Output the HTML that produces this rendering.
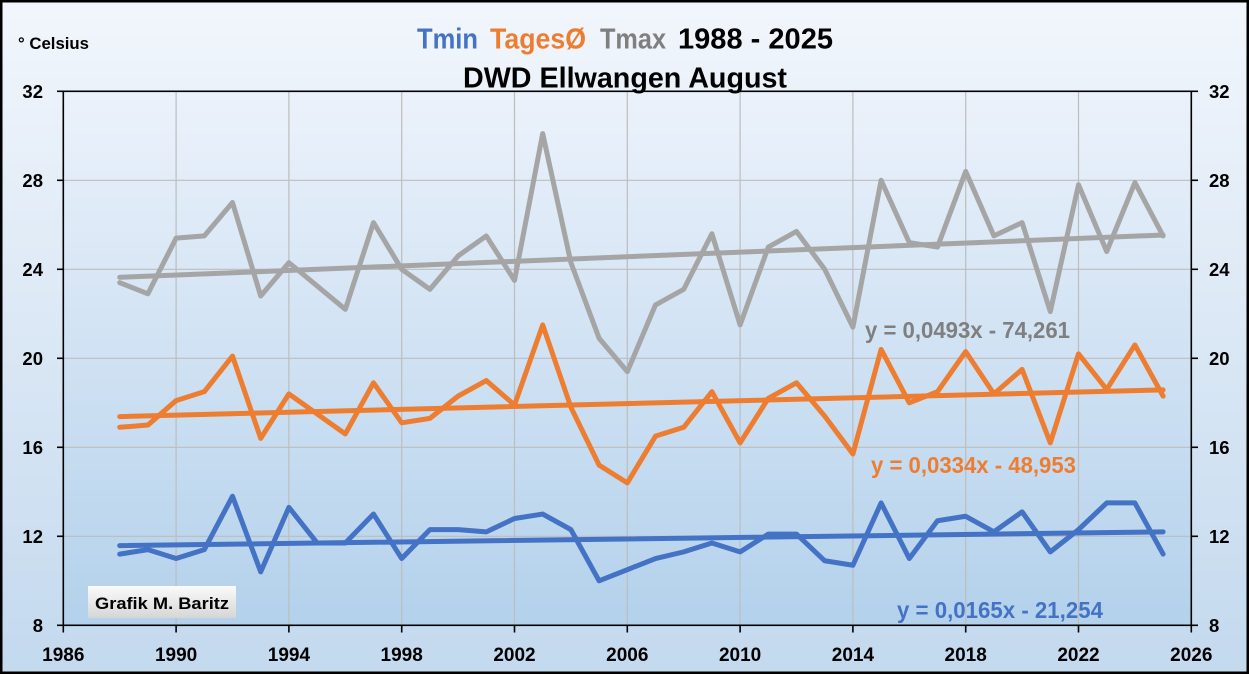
<!DOCTYPE html>
<html>
<head>
<meta charset="utf-8">
<style>
html,body{margin:0;padding:0;background:#fff;}
svg{display:block;}
text{font-family:"Liberation Sans",Arial,sans-serif;font-weight:bold;}
</style>
</head>
<body>
<svg width="1249" height="674" viewBox="0 0 1249 674" xmlns="http://www.w3.org/2000/svg">
<defs>
<linearGradient id="bg" x1="0" y1="0" x2="0" y2="1">
<stop offset="0" stop-color="#f2f6fc"/>
<stop offset="1" stop-color="#c3d9ee"/>
</linearGradient>
<linearGradient id="pbg" x1="0" y1="0" x2="0" y2="1">
<stop offset="0" stop-color="#ecf2fb"/>
<stop offset="1" stop-color="#b3d1eb"/>
</linearGradient>
<linearGradient id="box" x1="0" y1="0" x2="0" y2="1">
<stop offset="0" stop-color="#fbfbfb"/>
<stop offset="1" stop-color="#d6d6d6"/>
</linearGradient>
</defs>
<rect x="0" y="0" width="1249" height="674" fill="url(#bg)"/>
<rect x="63.3" y="91.3" width="1128" height="534" fill="url(#pbg)"/>

<!-- gridlines -->
<g stroke="#bdbdbd" stroke-width="1.2">
<line x1="176.1" y1="91.3" x2="176.1" y2="625.3"/>
<line x1="288.9" y1="91.3" x2="288.9" y2="625.3"/>
<line x1="401.7" y1="91.3" x2="401.7" y2="625.3"/>
<line x1="514.5" y1="91.3" x2="514.5" y2="625.3"/>
<line x1="627.3" y1="91.3" x2="627.3" y2="625.3"/>
<line x1="740.1" y1="91.3" x2="740.1" y2="625.3"/>
<line x1="852.9" y1="91.3" x2="852.9" y2="625.3"/>
<line x1="965.7" y1="91.3" x2="965.7" y2="625.3"/>
<line x1="1078.5" y1="91.3" x2="1078.5" y2="625.3"/>
<line x1="63.3" y1="180.3" x2="1191.3" y2="180.3"/>
<line x1="63.3" y1="269.3" x2="1191.3" y2="269.3"/>
<line x1="63.3" y1="358.3" x2="1191.3" y2="358.3"/>
<line x1="63.3" y1="447.3" x2="1191.3" y2="447.3"/>
<line x1="63.3" y1="536.3" x2="1191.3" y2="536.3"/>
</g>

<!-- axes / border -->
<g stroke="#000" stroke-width="1.6" fill="none">
<rect x="63.3" y="91.3" width="1128" height="534"/>
<line x1="57" y1="91.3" x2="63.3" y2="91.3"/>
<line x1="57" y1="180.3" x2="63.3" y2="180.3"/>
<line x1="57" y1="269.3" x2="63.3" y2="269.3"/>
<line x1="57" y1="358.3" x2="63.3" y2="358.3"/>
<line x1="57" y1="447.3" x2="63.3" y2="447.3"/>
<line x1="57" y1="536.3" x2="63.3" y2="536.3"/>
<line x1="57" y1="625.3" x2="63.3" y2="625.3"/>
<line x1="1191.3" y1="91.3" x2="1198" y2="91.3"/>
<line x1="1191.3" y1="180.3" x2="1198" y2="180.3"/>
<line x1="1191.3" y1="269.3" x2="1198" y2="269.3"/>
<line x1="1191.3" y1="358.3" x2="1198" y2="358.3"/>
<line x1="1191.3" y1="447.3" x2="1198" y2="447.3"/>
<line x1="1191.3" y1="536.3" x2="1198" y2="536.3"/>
<line x1="1191.3" y1="625.3" x2="1198" y2="625.3"/>
<line x1="63.3" y1="625.3" x2="63.3" y2="632.5"/>
<line x1="176.1" y1="625.3" x2="176.1" y2="632.5"/>
<line x1="288.9" y1="625.3" x2="288.9" y2="632.5"/>
<line x1="401.7" y1="625.3" x2="401.7" y2="632.5"/>
<line x1="514.5" y1="625.3" x2="514.5" y2="632.5"/>
<line x1="627.3" y1="625.3" x2="627.3" y2="632.5"/>
<line x1="740.1" y1="625.3" x2="740.1" y2="632.5"/>
<line x1="852.9" y1="625.3" x2="852.9" y2="632.5"/>
<line x1="965.7" y1="625.3" x2="965.7" y2="632.5"/>
<line x1="1078.5" y1="625.3" x2="1078.5" y2="632.5"/>
<line x1="1191.3" y1="625.3" x2="1191.3" y2="632.5"/>
</g>

<!-- data series -->
<g transform="translate(63.3,803.3) scale(28.2,-22.25)" fill="none" stroke-linejoin="round" stroke-linecap="round">
<polyline vector-effect="non-scaling-stroke" stroke="#4472c4" stroke-width="5" points="2,11.2 3,11.4 4,11.0 5,11.4 6,13.8 7,10.4 8,13.3 9,11.7 10,11.7 11,13.0 12,11.0 13,12.3 14,12.3 15,12.2 16,12.8 17,13.0 18,12.3 19,10.0 20,10.5 21,11.0 22,11.3 23,11.7 24,11.3 25,12.1 26,12.1 27,10.9 28,10.7 29,13.5 30,11.0 31,12.7 32,12.9 33,12.2 34,13.1 35,11.3 36,12.3 37,13.5 38,13.5 39,11.2"/>
<polyline vector-effect="non-scaling-stroke" stroke="#ed7d31" stroke-width="5" points="2,16.9 3,17.0 4,18.1 5,18.5 6,20.1 7,16.4 8,18.4 9,17.5 10,16.6 11,18.9 12,17.1 13,17.3 14,18.3 15,19.0 16,17.9 17,21.5 18,17.8 19,15.2 20,14.4 21,16.5 22,16.9 23,18.5 24,16.2 25,18.2 26,18.9 27,17.4 28,15.7 29,20.4 30,18.0 31,18.5 32,20.3 33,18.4 34,19.5 35,16.2 36,20.2 37,18.6 38,20.6 39,18.3"/>
<polyline vector-effect="non-scaling-stroke" stroke="#a5a5a5" stroke-width="5" points="2,23.4 3,22.9 4,25.4 5,25.5 6,27.0 7,22.8 8,24.3 9,23.25 10,22.2 11,26.1 12,24.0 13,23.1 14,24.6 15,25.5 16,23.5 17,30.1 18,24.3 19,20.9 20,19.4 21,22.4 22,23.1 23,25.6 24,21.5 25,25.0 26,25.7 27,24.0 28,21.4 29,28.0 30,25.2 31,25.0 32,28.4 33,25.5 34,26.1 35,22.1 36,27.8 37,24.8 38,27.9 39,25.5"/>
<line vector-effect="non-scaling-stroke" stroke="#4472c4" stroke-width="5" x1="2" y1="11.58" x2="39" y2="12.2"/>
<line vector-effect="non-scaling-stroke" stroke="#ed7d31" stroke-width="5" x1="2" y1="17.38" x2="39" y2="18.58"/>
<line vector-effect="non-scaling-stroke" stroke="#a5a5a5" stroke-width="5" x1="2" y1="23.64" x2="39" y2="25.54"/>
</g>

<!-- equations -->
<text x="865" y="338" font-size="23" fill="#7f7f7f" textLength="205" lengthAdjust="spacingAndGlyphs">y = 0,0493x - 74,261</text>
<text x="871" y="473" font-size="23" fill="#ed7d31" textLength="205" lengthAdjust="spacingAndGlyphs">y = 0,0334x - 48,953</text>
<text x="897" y="618" font-size="23" fill="#4472c4" textLength="206" lengthAdjust="spacingAndGlyphs">y = 0,0165x - 21,254</text>

<!-- left axis labels -->
<g font-size="18.5" fill="#000" text-anchor="end">
<text x="43" y="97.8">32</text>
<text x="43" y="186.8">28</text>
<text x="43" y="275.8">24</text>
<text x="43" y="364.8">20</text>
<text x="43" y="453.8">16</text>
<text x="43" y="542.8">12</text>
<text x="43" y="631.8">8</text>
</g>
<!-- right axis labels -->
<g font-size="18.5" fill="#000">
<text x="1209" y="97.8">32</text>
<text x="1209" y="186.8">28</text>
<text x="1209" y="275.8">24</text>
<text x="1209" y="364.8">20</text>
<text x="1209" y="453.8">16</text>
<text x="1209" y="542.8">12</text>
<text x="1209" y="631.8">8</text>
</g>
<!-- x labels -->
<g font-size="19" fill="#000" text-anchor="middle">
<text x="63.3" y="661">1986</text>
<text x="176.1" y="661">1990</text>
<text x="288.9" y="661">1994</text>
<text x="401.7" y="661">1998</text>
<text x="514.5" y="661">2002</text>
<text x="627.3" y="661">2006</text>
<text x="740.1" y="661">2010</text>
<text x="852.9" y="661">2014</text>
<text x="965.7" y="661">2018</text>
<text x="1078.5" y="661">2022</text>
<text x="1191.3" y="661">2026</text>
</g>

<!-- titles -->
<text x="417" y="48.5" font-size="29" fill="#4472c4" textLength="61" lengthAdjust="spacingAndGlyphs">Tmin</text>
<text x="490" y="48.5" font-size="29" fill="#ed7d31" textLength="96" lengthAdjust="spacingAndGlyphs">TagesØ</text>
<text x="600" y="48.5" font-size="29" fill="#7f7f7f" textLength="66" lengthAdjust="spacingAndGlyphs">Tmax</text>
<text x="678" y="48.5" font-size="29" fill="#000" textLength="155" lengthAdjust="spacingAndGlyphs">1988 - 2025</text>
<text x="463" y="87.5" font-size="29" fill="#000" textLength="324" lengthAdjust="spacingAndGlyphs">DWD Ellwangen August</text>

<text x="18" y="49" font-size="17" fill="#000" textLength="71" lengthAdjust="spacingAndGlyphs">° Celsius</text>

<!-- credit box -->
<rect x="88" y="586" width="148" height="32" fill="url(#box)"/>
<text x="95" y="609" font-size="17" fill="#000" textLength="134" lengthAdjust="spacingAndGlyphs">Grafik M. Baritz</text>

<!-- outer border -->
<rect x="1.25" y="1.25" width="1246.5" height="671.5" fill="none" stroke="#000" stroke-width="2.5"/>
</svg>
</body>
</html>
